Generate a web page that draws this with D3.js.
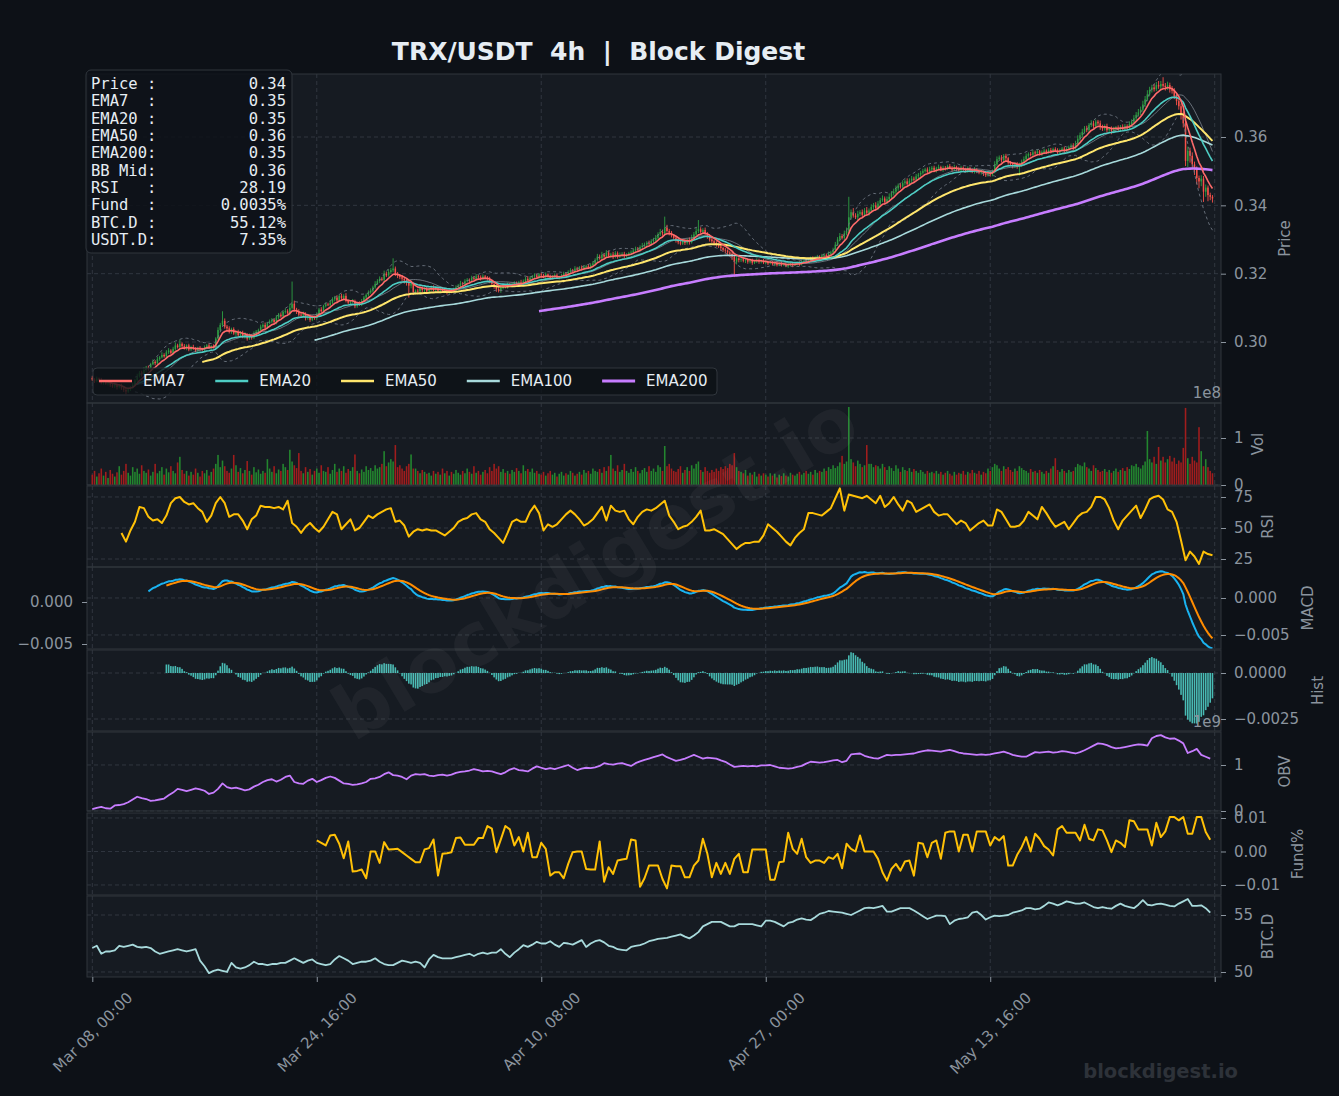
<!DOCTYPE html>
<html>
<head>
<meta charset="utf-8">
<script src="https://cdn.jsdelivr.net/npm/d3@7/dist/d3.min.js"></script>
<style>
  html, body { margin: 0; padding: 0; background: #0d1117; }
  svg { display: block; }
</style>
</head>
<body>
<div id="chart"></div>
<script>
// ---- data ----
// 4h candles from Mar 08 00:00, close in 1e-4 USDT
const firstOpen = 2895;
const closeX1e4 = [
  2890,2885,2893,2888,2880,2884,2878,2882,2875,2870,2876,2868,2872,2865,2860,2855,2862,2866,2875,2888,
  2900,2910,2905,2918,2925,2920,2935,2942,2938,2950,2955,2962,2958,2970,2975,2968,2980,2990,2985,2995,
  2988,2982,2990,2978,2985,2980,2975,2982,2980,2978,2985,2990,2983,2988,2985,3010,3035,3050,3062,3045,
  3040,3030,3038,3025,3030,3020,3028,3015,3022,3010,3020,3012,3025,3030,3035,3045,3050,3042,3055,3060,
  3065,3058,3072,3080,3075,3088,3090,3085,3100,3112,3095,3090,3080,3078,3082,3070,3075,3065,3072,3070,
  3080,3095,3090,3105,3110,3108,3115,3125,3130,3122,3135,3128,3135,3120,3115,3118,3120,3105,3112,3110,
  3120,3130,3138,3145,3150,3160,3170,3178,3185,3182,3200,3195,3205,3210,3215,3200,3195,3190,3185,3180,
  3175,3165,3170,3145,3150,3148,3158,3152,3155,3148,3155,3160,3152,3158,3150,3155,3148,3152,3145,3150,
  3148,3155,3160,3165,3172,3170,3178,3182,3180,3188,3185,3192,3190,3186,3192,3188,3185,3178,3170,3162,
  3155,3150,3158,3165,3162,3168,3165,3170,3172,3168,3175,3170,3178,3185,3180,3188,3192,3195,3190,3198,
  3195,3190,3198,3192,3188,3192,3195,3188,3190,3195,3200,3198,3205,3210,3208,3215,3212,3218,3215,3220,
  3222,3218,3225,3230,3240,3250,3245,3255,3250,3262,3252,3256,3250,3260,3250,3255,3258,3252,3255,3260,
  3262,3268,3272,3270,3278,3282,3285,3290,3288,3295,3298,3305,3315,3322,3318,3335,3325,3320,3312,3305,
  3298,3292,3288,3295,3290,3298,3292,3305,3315,3325,3330,3322,3328,3318,3310,3300,3295,3290,3285,3280,
  3275,3270,3268,3262,3258,3250,3235,3245,3240,3242,3238,3240,3235,3238,3232,3236,3240,3235,3238,3232,
  3235,3230,3233,3228,3232,3225,3230,3226,3228,3222,3226,3230,3225,3228,3232,3228,3235,3238,3235,3240,
  3245,3242,3248,3250,3246,3252,3255,3250,3258,3262,3270,3285,3300,3310,3305,3318,3325,3365,3380,3370,
  3365,3375,3380,3372,3385,3378,3385,3395,3400,3392,3405,3415,3420,3410,3418,3425,3435,3440,3450,3458,
  3455,3465,3470,3462,3472,3478,3475,3485,3490,3495,3500,3505,3498,3505,3510,3502,3508,3512,3505,3510,
  3508,3515,3510,3505,3512,3508,3502,3510,3505,3500,3508,3503,3498,3505,3500,3495,3498,3492,3488,3495,
  3490,3498,3520,3535,3540,3532,3545,3538,3525,3520,3515,3522,3512,3518,3528,3535,3545,3550,3548,3555,
  3552,3558,3550,3556,3560,3555,3562,3558,3565,3560,3555,3562,3566,3560,3565,3570,3575,3568,3580,3595,
  3605,3615,3625,3620,3635,3640,3632,3645,3640,3630,3625,3632,3620,3625,3618,3625,3628,3622,3630,3625,
  3632,3628,3638,3645,3655,3665,3672,3680,3695,3710,3725,3738,3745,3740,3752,3748,3755,3750,3745,3752,
  3740,3735,3720,3705,3690,3665,3640,3530,3560,3545,3520,3505,3480,3470,3478,3440,3452,3430,3425,3420
];
// upper / lower wick beyond the body, 1e-4 USDT
const wickUp = [
  5,4,6,3,7,4,5,3,6,4,5,3,4,6,5,8,4,5,6,4,7,5,6,8,5,
  6,4,7,5,6,4,8,5,6,7,4,6,9,5,12,4,6,3,5,4,7,5,4,6,3,
  5,4,6,3,5,4,8,6,28,7,5,6,4,5,3,6,4,5,7,4,5,3,6,5,4,
  6,5,7,4,6,5,4,7,5,6,4,8,6,12,65,9,5,6,4,7,5,4,6,3,5,
  6,5,7,4,6,5,8,6,5,7,4,6,5,8,4,5,6,4,5,7,6,5,4,6,7,
  5,8,6,7,5,9,6,8,7,30,6,5,4,6,5,7,4,6,5,4,6,3,5,4,6,
  4,5,6,3,5,4,6,5,4,7,5,4,6,5,7,4,6,5,4,6,5,7,4,5,6,
  4,5,6,4,5,3,6,4,5,4,6,5,4,6,5,4,7,5,6,8,5,4,6,5,4,
  5,4,6,3,5,4,6,5,4,5,6,4,5,6,4,7,5,4,6,5,4,6,5,7,5,
  8,6,9,5,7,6,5,8,6,5,7,5,6,5,4,6,5,7,6,5,8,6,5,7,6,
  7,8,6,9,7,32,8,6,5,4,6,5,7,4,6,5,8,9,7,10,27,6,5,7,4,
  5,6,4,5,3,6,4,5,3,4,5,4,6,3,5,4,3,5,4,6,3,5,4,3,5,
  4,3,5,4,3,5,4,6,3,4,5,3,4,5,3,4,6,4,5,3,5,6,4,5,4,
  6,5,4,7,5,6,8,7,9,6,8,10,60,8,12,7,9,6,8,7,10,6,8,7,9,
  8,7,9,6,8,10,7,9,8,6,7,8,6,9,7,8,6,7,5,6,7,5,6,8,5,
  6,5,7,4,6,5,4,6,5,7,4,5,6,4,5,6,4,5,7,4,5,6,4,5,6,
  5,7,9,8,6,7,5,6,4,5,6,4,5,7,6,8,7,5,6,7,5,6,4,5,6,
  4,5,6,4,5,7,4,5,6,4,5,6,7,9,10,8,9,7,8,6,9,7,6,5,8,
  6,5,7,4,6,5,4,6,5,7,6,5,8,7,9,8,10,9,11,10,12,9,8,10,9,
  12,9,20,8,10,7,9,8,10,9,8,10,15,12,9,10,8,9,7,10,8,9,6,7,5
];
const wickDown = [
  4,5,3,6,4,5,3,5,6,4,5,7,4,5,6,8,4,5,3,4,5,4,6,3,5,
  4,5,3,6,4,5,3,4,6,5,4,3,5,4,6,5,4,6,5,4,3,5,4,6,4,
  5,4,3,5,4,6,3,4,5,6,8,5,6,4,7,5,6,4,5,6,4,5,3,4,5,
  4,5,6,4,3,5,4,6,5,4,6,5,4,7,5,6,8,5,6,4,7,5,6,4,5,
  5,4,6,5,4,3,5,4,6,5,4,5,6,4,5,7,4,6,5,4,5,3,4,5,4,
  5,4,3,5,4,6,5,4,5,6,7,8,6,7,9,10,35,8,7,6,8,5,7,6,5,
  6,5,4,6,5,7,4,5,6,4,5,4,6,5,4,6,5,4,5,3,4,5,4,6,5,
  4,5,6,7,6,8,5,6,4,5,6,4,5,3,4,5,6,4,5,3,4,5,4,3,5,
  4,3,5,4,6,5,4,3,5,4,3,5,4,3,5,4,3,5,4,5,3,4,5,4,3,
  5,4,6,5,4,6,5,7,5,6,4,5,6,5,4,6,5,4,5,6,4,5,6,4,5,
  5,4,6,5,7,6,5,8,6,5,7,6,5,4,6,5,7,4,5,4,6,5,7,6,8,
  6,5,7,6,5,8,6,9,7,8,10,45,8,7,6,5,7,6,5,6,4,5,6,5,4,
  4,5,3,4,6,4,3,5,4,3,5,4,6,3,4,5,4,3,5,4,6,4,5,3,4,
  5,4,6,5,4,6,5,4,6,5,7,6,8,7,6,5,8,6,7,5,6,8,6,7,5,
  6,7,5,8,6,7,5,6,8,7,6,5,7,6,5,8,6,5,7,6,5,4,6,5,7,
  5,6,4,5,7,6,5,4,6,5,7,4,5,6,4,5,6,4,5,6,4,5,6,5,4,
  6,5,4,6,5,7,6,8,6,5,7,6,5,25,6,5,4,6,5,4,5,6,4,5,6,
  5,4,6,5,4,6,5,4,6,5,4,5,6,4,5,6,7,5,6,8,6,7,5,6,9,
  7,6,8,6,10,7,6,5,7,6,5,7,6,5,6,7,5,8,6,7,5,6,8,7,6,
  7,8,6,9,7,10,8,9,12,10,14,12,15,18,20,15,16,18,20,14,30,15,18,10,12
];
// volume per candle, millions
const volMillions = [
  22,30,18,25,35,20,28,15,32,24,18,27,40,22,30,45,26,20,38,28,35,24,42,30,26,
  33,20,28,45,25,30,38,22,35,27,40,30,25,48,60,32,24,30,20,28,22,35,26,18,30,
  25,32,20,28,35,45,64,38,52,40,30,26,35,64,42,28,36,25,32,51,30,22,38,27,33,
  24,30,26,55,35,28,40,25,33,30,45,38,32,75,50,42,36,68,30,25,38,28,34,22,30,
  35,26,42,30,28,38,24,32,45,28,35,30,40,26,34,30,38,65,30,25,33,28,40,32,36,
  30,42,35,38,45,72,40,48,55,50,85,38,42,35,30,40,45,65,35,35,30,25,32,28,24,
  26,20,30,24,28,22,35,25,30,20,28,24,32,26,22,30,25,35,28,24,40,26,30,22,28,
  32,25,38,30,45,35,40,28,34,26,30,24,32,28,36,30,25,42,30,34,28,35,26,30,24,
  22,28,20,25,30,22,26,18,24,28,20,25,22,30,26,20,24,28,22,32,26,30,24,35,30,
  28,34,26,38,30,40,64,35,30,42,28,32,45,30,26,34,28,38,30,25,32,36,28,40,30,
  35,28,42,38,30,83,40,45,35,30,28,34,40,26,32,38,30,42,35,45,50,32,28,38,30,
  26,32,28,35,30,38,34,40,36,45,42,68,38,30,28,25,32,20,26,22,28,18,24,20,25,
  22,18,25,20,24,16,22,19,25,20,18,26,22,20,24,28,22,26,30,24,28,22,32,26,30,
  28,35,30,38,34,42,36,40,48,62,45,50,166,55,48,40,52,45,38,42,85,45,45,38,42,
  40,35,45,38,32,40,36,30,42,35,28,38,32,30,36,28,34,30,26,32,28,24,30,26,28,
  25,30,24,28,22,26,30,24,20,28,22,26,24,30,22,28,25,32,26,24,30,22,28,25,35,
  30,38,45,42,35,30,40,34,38,32,28,35,30,40,36,32,30,26,34,28,30,26,32,28,24,
  30,26,35,40,57,32,28,34,30,26,32,28,30,38,45,42,40,48,38,35,30,42,36,32,28,
  30,34,28,32,26,30,35,28,32,36,30,38,34,42,40,45,38,35,42,50,115,55,48,60,45,
  81,52,60,48,55,62,50,58,45,52,48,79,164,57,45,60,52,48,123,72,40,55,38,30,25
];
// RSI(14), every 2nd candle from candle 13
const rsiStart = 13;
const rsiVals = [
  46,39,48,55,67,66,59,56,57,54, 60,70,74,75,71,69,70,66,63,55,
  60,70,75,70,59,61,61,56,49,57, 60,68,67,67,66,67,65,72,54,51,
  46,51,54,50,47,51,57,63,61,49, 53,57,48,50,55,60,58,61,63,65,
  66,55,56,52,43,47,49,48,49,48, 48,46,44,47,50,55,57,58,61,62,
  57,55,49,46,42,38,46,55,57,55, 55,63,68,62,48,53,51,53,57,61,
  64,61,57,52,54,57,62,67,56,68, 64,63,64,57,53,59,63,65,64,66,
  69,72,60,55,49,51,52,55,59,64, 48,48,49,47,45,41,37,33,36,38,
  38,39,39,44,53,50,47,43,39,36, 42,46,49,62,62,61,60,63,66,74,
  82,64,77,76,75,74,76,73,70,76, 67,70,75,69,64,72,70,63,65,67,
  69,63,60,61,61,57,53,56,54,48, 51,54,56,52,52,65,63,57,51,51,
  52,56,63,60,57,67,62,56,51,53, 55,49,54,59,62,63,67,75,75,73,
  66,56,49,56,60,64,68,58,65,73, 75,76,73,65,63,55,40,24,31,27,
  21,31,29,28
];
// OBV, every 2nd candle from candle 0, in 1e7
const obvVals = [
  4,7,9,6,5,12,13,15,19,25, 31,28,26,22,23,25,27,34,40,48,
  46,43,46,49,47,44,37,40,48,60, 52,49,51,48,45,47,53,57,63,67,
  69,64,68,74,77,63,60,59,66,70, 63,67,72,75,72,66,60,59,57,58,
  60,63,70,71,74,80,84,78,77,74, 69,77,80,79,80,77,76,78,79,77,
  79,83,85,86,88,91,89,86,87,86, 83,80,84,90,93,89,88,86,92,97,
  94,91,93,91,94,97,100,94,89,92, 94,93,95,98,104,102,101,103,104,101,
  98,104,108,111,114,117,120,123,117,113, 109,111,114,118,122,118,114,116,115,114,
  110,107,101,96,97,98,97,98,97,99, 99,100,97,94,93,92,93,96,98,103,
  107,106,105,106,108,110,111,106,109,123, 124,125,120,117,115,114,118,122,121,122,
  122,123,124,125,128,130,132,131,130,129, 131,133,130,127,125,124,123,122,123,122,
  123,125,127,129,126,122,120,118,118,123, 128,127,128,129,127,128,130,129,127,125,
  128,132,137,142,147,146,143,139,136,137, 139,141,143,145,144,142,158,163,165,160,
  157,158,153,147,126,130,135,122,118,114
];
// funding rate, every 2nd candle from candle 100, in 0.001 %
const fundStart = 100;
const fundVals = [
  3.3,2.6,1.8,4.8,5,2.3,-2,3,-6,-5.8, -5.4,-8,0,0,-3.4,2.8,0.6,0.7,0.8,-0.2,
  -1.2,-2.2,-3.2,-3.2,0.6,1,3.6,-7.2,-0.7,-0.5, -0.2,4,4.2,2,2,2,4,4,7.6,6.8,
  -0.2,3.6,7.6,6.6,1.8,4.3,0,5.6,-1.7,-1.7, 2.6,0.8,-7.2,-6.2,-6.2,-8,-3.7,-0.2,0,0,
  -5.2,-5.4,-5.4,3,-9,-4.7,-6.7,-2.7,-2.4,-2.2, 3.6,3.3,-10.5,-8,-4.2,-4.2,-4.2,-8.2,-11,-4.2,
  -4.4,-4.4,-7.7,-7.7,-4.2,-2.7,3.8,-0.7,-7.7,-3.4, -6.7,-3.4,-6.7,-2.2,-0.7,-6.2,-6.2,0.6,0.6,0.6,
  0.6,-8.4,-8.4,-3.2,-3,5.6,0.8,-0.7,3.8,-1.7, -3.4,-2.7,-2.7,-3.4,-1.7,-2.2,-0.7,-5,2.3,0.8,
  0,4.8,0,0,0,-2.2,-6.2,-8.7,-5.2,-3.7, -5.7,-3,-2.7,-7.2,2.6,2.3,-1.7,2.6,3.3,-2.2,
  5.6,6,6,0,5,5,0,6,6,6, 1.8,4.3,3.3,4.6,-4.2,-4.2,-1,1.3,4.3,0,
  5.3,3.8,1.6,0.6,-1.2,6.6,7.6,5.6,5.6,5.6, 3.3,8,3.8,3.3,6.6,6.3,3.3,-0.2,3.3,2.6,
  1.3,9.3,9,6.6,6.6,6.6,1.8,8.6,4.3,6, 10.3,10.3,9.3,10.3,5.3,5.3,10.3,10.3,5.8,3.5
];
// BTC dominance %, every 2nd candle from candle 0
const btcDom = [
  52.1,52.3,51.6,51.8,51.8,51.9,52.3,52.2,52.3,52.4, 52.2,52.15,52.2,52.1,51.8,51.6,51.7,51.8,51.9,52.0,
  51.9,51.8,51.9,52.0,51.0,50.5,49.9,50.1,50.2,50.1, 50.0,50.8,50.4,50.3,50.4,50.6,50.9,50.7,50.7,50.6,
  50.7,50.7,50.8,50.8,51.0,51.2,51.0,50.8,51.0,51.1, 50.8,50.7,50.6,50.7,51.1,51.4,51.2,51.0,50.7,50.8,
  50.9,50.9,51.0,51.2,50.9,50.7,50.6,50.6,50.8,51.0, 50.9,50.8,50.9,50.8,50.4,51.1,51.5,51.3,51.2,51.2,
  51.2,51.3,51.4,51.5,51.6,51.4,51.6,51.7,51.6,51.7, 51.7,52.0,51.6,51.3,51.7,52.0,52.35,52.2,52.4,52.65,
  52.5,52.5,52.7,52.4,52.2,52.55,52.5,52.4,52.6,52.8, 52.2,52.5,52.7,52.8,52.6,52.3,52.2,52.0,51.95,51.9,
  52.2,52.3,52.35,52.5,52.7,52.8,52.9,52.95,53.0,53.1, 53.2,53.3,53.1,52.95,53.2,53.5,54.0,54.2,54.4,54.4,
  54.4,54.2,54.0,54.0,54.2,54.2,54.2,54.2,54.1,54.0, 54.5,54.5,54.4,54.2,54.0,54.3,54.4,54.6,54.7,54.6,
  54.55,54.8,55.1,55.2,55.35,55.3,55.25,55.2,55.1,55.0, 55.2,55.4,55.6,55.65,55.6,55.7,55.8,55.3,55.3,55.45,
  55.6,55.6,55.6,55.4,55.15,54.9,54.65,54.8,54.95,54.95, 54.9,54.2,54.5,54.65,54.7,54.8,55.2,55.3,55.0,54.6,
  54.8,54.95,54.9,54.95,55.0,55.2,55.3,55.4,55.6,55.6, 55.5,55.55,55.8,56.1,56.0,55.85,56.0,56.2,56.1,56.0,
  56.0,56.1,55.9,55.7,55.6,55.7,55.6,55.55,55.8,56.0, 55.8,55.7,55.6,55.9,56.3,55.9,55.85,55.95,56.0,55.9,
  55.8,55.75,56.0,56.2,56.4,55.8,55.8,55.85,55.6,55.2
];
const infoLabels = ['Price :', 'EMA7  :', 'EMA20 :', 'EMA50 :', 'EMA200:', 'BB Mid:', 'RSI   :', 'Fund  :', 'BTC.D :', 'USDT.D:'];
const infoValues = ['0.34', '0.35', '0.35', '0.36', '0.35', '0.36', '28.19', '0.0035%', '55.12%', '7.35%'];
const xTickIdx = [0, 100, 200, 300, 400, 500];
const startUTC = Date.UTC(2025, 2, 8, 0, 0);

// ---- derived series ----
const n = closeX1e4.length;
const close = closeX1e4.map(v => v / 1e4);
const open = close.map((c, i) => i === 0 ? firstOpen / 1e4 : close[i - 1]);
const high = close.map((c, i) => Math.max(c, open[i]) + wickUp[i] / 1e4);
const low = close.map((c, i) => Math.min(c, open[i]) - wickDown[i] / 1e4);

function ema(src, span, minCount) { // ewm(adjust=False) with min periods
  const a = 2 / (span + 1);
  let prev = null, count = 0;
  return src.map(v => {
    if (v == null) return null;
    prev = prev == null ? v : a * v + (1 - a) * prev;
    count++;
    return count >= minCount ? prev : null;
  });
}
const ema7 = ema(close, 7, 7), ema20 = ema(close, 20, 20), ema50 = ema(close, 50, 50);
const ema100 = ema(close, 100, 100), ema200 = ema(close, 200, 200);
const e12 = ema(close, 12, 1), e26 = ema(close, 26, 1);
const macd = close.map((c, i) => i >= 25 ? e12[i] - e26[i] : null);
const signal = ema(macd, 9, 9);
const hist = macd.map((m, i) => (m != null && signal[i] != null) ? m - signal[i] : null);
const bb = close.map((c, i) => {
  if (i < 19) return null;
  const w = close.slice(i - 19, i + 1);
  const m = d3.mean(w), s = d3.deviation(w);
  return { mid: m, up: m + 2 * s, lo: m - 2 * s };
});
const pairs = arr => arr.map((v, i) => [i, v]);

// ---- layout ----
const W = 1339, H = 1096;
const X0 = 87, X1 = 1221;
const TXT = '#8b949e';
const x = d3.scaleLinear().domain([-2.36, 502.8]).range([X0, X1]);
const step = x(1) - x(0);

const panels = [
  { key: 'price', top: 74,  bot: 403, lim: [0.28215, 0.37844], ticks: [0.30, 0.32, 0.34, 0.36], fmt: d3.format('.2f'), label: 'Price', labelX: 1285 },
  { key: 'vol',   top: 403, bot: 485, lim: [0, 1.745e8], ticks: [0, 1e8], fmt: v => String(v / 1e8), label: 'Vol', labelX: 1258 },
  { key: 'rsi',   top: 486, bot: 567, lim: [18.55, 83.87], ticks: [25, 50, 75], fmt: d3.format('d'), label: 'RSI', labelX: 1268 },
  { key: 'macd',  top: 567, bot: 649, lim: [-0.006892, 0.004189], ticks: [-0.005, 0], fmt: d3.format('.3f'), label: 'MACD', labelX: 1308 },
  { key: 'hist',  top: 650, bot: 731, lim: [-0.003152, 0.00125], ticks: [-0.0025, 0], fmt: d3.format('.4f'), label: 'Hist', labelX: 1318 },
  { key: 'obv',   top: 732, bot: 811, lim: [0, 1.717e9], ticks: [0, 1e9], fmt: v => String(v / 1e9), label: 'OBV', labelX: 1285 },
  { key: 'fund',  top: 813, bot: 895, lim: [-0.01299, 0.01149], ticks: [-0.01, 0, 0.01], fmt: d3.format('.2f'), label: 'Fund%', labelX: 1298 },
  { key: 'btc',   top: 896, bot: 977, lim: [49.561, 56.667], ticks: [50, 55], fmt: d3.format('d'), label: 'BTC.D', labelX: 1268 }
];
const P = {};
panels.forEach(p => {
  p.y = d3.scaleLinear().domain(p.lim).range([p.bot, p.top]);
  P[p.key] = p;
});

const svg = d3.select('#chart').append('svg')
  .attr('width', W).attr('height', H)
  .style('font-family', '"DejaVu Sans", sans-serif');
svg.append('rect').attr('width', W).attr('height', H).attr('fill', '#0d1117');
const defs = svg.append('defs');

svg.append('text')
  .attr('x', 598.5).attr('y', 60)
  .attr('text-anchor', 'middle')
  .attr('font-size', 25).attr('font-weight', 'bold')
  .attr('fill', '#e6edf3')
  .style('white-space', 'pre')
  .text('TRX/USDT  4h  |  Block Digest');

// panel backgrounds + grid
panels.forEach(p => {
  svg.append('rect').attr('x', X0).attr('y', p.top).attr('width', X1 - X0).attr('height', p.bot - p.top).attr('fill', '#161b22');
  defs.append('clipPath').attr('id', 'clip-' + p.key)
    .append('rect').attr('x', X0).attr('y', p.top).attr('width', X1 - X0).attr('height', p.bot - p.top);
  const grid = svg.append('g').attr('stroke', '#373e47').attr('stroke-width', 0.8).attr('stroke-dasharray', '4,3');
  p.ticks.forEach(t => {
    grid.append('line').attr('x1', X0).attr('x2', X1).attr('y1', p.y(t)).attr('y2', p.y(t));
  });
  xTickIdx.forEach(t => {
    grid.append('line').attr('x1', x(t)).attr('x2', x(t)).attr('y1', p.top).attr('y2', p.bot);
  });
  p.g = svg.append('g').attr('clip-path', 'url(#clip-' + p.key + ')');
});

function drawLine(p, data, color, width, opts) {
  opts = opts || {};
  const gen = d3.line().defined(d => d[1] != null).x(d => x(d[0])).y(d => p.y(d[1]));
  p.g.append('path').datum(data)
    .attr('fill', 'none').attr('stroke', color).attr('stroke-width', width)
    .attr('stroke-linejoin', 'round')
    .attr('stroke-dasharray', opts.dash || null)
    .attr('opacity', opts.opacity || 1)
    .attr('d', gen);
}

// ---- price: candles, bollinger, emas ----
const UP = '#2ea043', DOWN = '#f85149';
const candles = d3.range(n).map(i => ({ i: i, o: open[i], c: close[i], h: high[i], l: low[i] }));
const pc = P.price.g.append('g');
pc.selectAll('line').data(candles).join('line')
  .attr('x1', d => x(d.i)).attr('x2', d => x(d.i))
  .attr('y1', d => P.price.y(d.h)).attr('y2', d => P.price.y(d.l))
  .attr('stroke', d => d.c >= d.o ? UP : DOWN).attr('stroke-width', 0.9);
pc.selectAll('rect').data(candles).join('rect')
  .attr('x', d => x(d.i) - step * 0.33).attr('width', step * 0.66)
  .attr('y', d => P.price.y(Math.max(d.o, d.c)))
  .attr('height', d => Math.max(0.8, Math.abs(P.price.y(d.o) - P.price.y(d.c))))
  .attr('fill', d => d.c >= d.o ? UP : DOWN);

drawLine(P.price, bb.map((b, i) => [i, b ? b.up : null]), '#6e7681', 1, { dash: '3,3', opacity: 0.9 });
drawLine(P.price, bb.map((b, i) => [i, b ? b.lo : null]), '#6e7681', 1, { dash: '3,3', opacity: 0.9 });
drawLine(P.price, bb.map((b, i) => [i, b ? b.mid : null]), '#8b949e', 1, { opacity: 0.7 });
drawLine(P.price, pairs(ema100), '#a8dadc', 1.6);
drawLine(P.price, pairs(ema200), '#c77dff', 2.6);
drawLine(P.price, pairs(ema50), '#ffe66d', 2);
drawLine(P.price, pairs(ema20), '#4ecdc4', 1.6);
drawLine(P.price, pairs(ema7), '#ff6b6b', 1.6);

// ---- volume ----
P.vol.g.selectAll('rect').data(d3.range(n)).join('rect')
  .attr('x', i => x(i) - step * 0.35).attr('width', step * 0.7)
  .attr('y', i => P.vol.y(volMillions[i] * 1e6))
  .attr('height', i => P.vol.y(0) - P.vol.y(volMillions[i] * 1e6))
  .attr('fill', i => close[i] >= open[i] ? '#23862f' : '#a11d1d');

// ---- RSI ----
drawLine(P.rsi, rsiVals.map((v, k) => [rsiStart + 2 * k, v]), '#ffc107', 2);

// ---- MACD ----
drawLine(P.macd, pairs(macd), '#1ab3f0', 2);
drawLine(P.macd, pairs(signal), '#ff8c00', 2);

// ---- histogram ----
P.hist.g.selectAll('rect').data(d3.range(n).filter(i => hist[i] != null)).join('rect')
  .attr('x', i => x(i) - step * 0.35).attr('width', step * 0.7)
  .attr('y', i => P.hist.y(Math.max(0, hist[i])))
  .attr('height', i => Math.abs(P.hist.y(hist[i]) - P.hist.y(0)))
  .attr('fill', '#4ecdc4').attr('opacity', 0.9);

// ---- OBV, funding, BTC.D ----
drawLine(P.obv, obvVals.map((v, k) => [2 * k, v * 1e7]), '#c77dff', 1.8);
drawLine(P.fund, fundVals.map((v, k) => [fundStart + 2 * k, v / 1000]), '#ffc107', 2);
drawLine(P.btc, btcDom.map((v, k) => [2 * k, v]), '#a8dadc', 1.8);

// ---- frames, axes ----
function styleAxis(g) {
  g.attr('font-size', 15).attr('font-family', '"DejaVu Sans", sans-serif');
  g.select('.domain').remove();
  g.selectAll('.tick line').attr('stroke', TXT);
  g.selectAll('.tick text').attr('fill', TXT);
}
panels.forEach(p => {
  svg.append('rect').attr('x', X0).attr('y', p.top).attr('width', X1 - X0).attr('height', p.bot - p.top)
    .attr('fill', 'none').attr('stroke', '#30363d').attr('stroke-width', 1);
  const ax = svg.append('g').attr('transform', 'translate(' + X1 + ',0)')
    .call(d3.axisRight(p.y).tickValues(p.ticks).tickFormat(p.fmt).tickSize(5).tickPadding(8));
  styleAxis(ax);
  svg.append('text')
    .attr('transform', 'translate(' + p.labelX + ',' + ((p.top + p.bot) / 2) + ') rotate(-90)')
    .attr('text-anchor', 'middle').attr('dominant-baseline', 'central')
    .attr('font-size', 15).attr('fill', TXT).text(p.label);
});

// second MACD scale on the left
const yMacdLeft = d3.scaleLinear().domain([-0.005595, 0.004167]).range([P.macd.bot, P.macd.top]);
styleAxis(svg.append('g').attr('transform', 'translate(' + X0 + ',0)')
  .call(d3.axisLeft(yMacdLeft).tickValues([-0.005, 0]).tickFormat(d3.format('.3f')).tickSize(5).tickPadding(9)));

// offset labels
svg.append('text').attr('x', X1).attr('y', P.vol.top - 5).attr('text-anchor', 'end')
  .attr('font-size', 15).attr('fill', TXT).text('1e8');
svg.append('text').attr('x', X1).attr('y', P.obv.top - 5).attr('text-anchor', 'end')
  .attr('font-size', 15).attr('fill', TXT).text('1e9');

// time axis
const fmtTime = d3.utcFormat('%b %d, %H:%M');
const xg = svg.append('g').attr('transform', 'translate(0,' + P.btc.bot + ')')
  .call(d3.axisBottom(x).tickValues(xTickIdx).tickSize(5)
    .tickFormat(i => i < n ? fmtTime(new Date(startUTC + i * 4 * 3600e3)) : ''));
styleAxis(xg);
xg.selectAll('.tick text').each(function () {
  const t = d3.select(this);
  t.attr('y', 0).attr('dy', null).attr('text-anchor', 'middle').attr('dominant-baseline', 'central');
  const w = this.getComputedTextLength();
  const half = (w + 15) * Math.SQRT1_2 / 2;
  t.attr('transform', 'translate(0,' + (13 + half) + ') rotate(-45)');
});

// ---- info box ----
const info = svg.append('g');
info.append('rect').attr('x', 86).attr('y', 70).attr('width', 206).attr('height', 183).attr('rx', 5)
  .attr('fill', '#0d1117').attr('fill-opacity', 0.85).attr('stroke', '#30363d');
infoLabels.forEach((lab, k) => {
  const yy = 84 + k * 17.33;
  info.append('text').attr('x', 91).attr('y', yy).attr('dominant-baseline', 'central')
    .attr('font-family', '"DejaVu Sans Mono", monospace').attr('font-size', 15.5)
    .attr('fill', '#e6edf3').style('white-space', 'pre').text(lab);
  info.append('text').attr('x', 286).attr('y', yy).attr('dominant-baseline', 'central')
    .attr('text-anchor', 'end')
    .attr('font-family', '"DejaVu Sans Mono", monospace').attr('font-size', 15.5)
    .attr('fill', '#e6edf3').text(infoValues[k]);
});

// ---- legend ----
const legItems = [['EMA7', '#ff6b6b'], ['EMA20', '#4ecdc4'], ['EMA50', '#ffe66d'], ['EMA100', '#a8dadc'], ['EMA200', '#c77dff']];
const leg = svg.append('g');
leg.append('rect').attr('x', 93).attr('y', 368).attr('width', 624).attr('height', 27).attr('rx', 4)
  .attr('fill', '#0d1117').attr('fill-opacity', 0.8).attr('stroke', '#30363d');
let lx = 99;
legItems.forEach(([name, color]) => {
  leg.append('line').attr('x1', lx).attr('x2', lx + 33).attr('y1', 381).attr('y2', 381)
    .attr('stroke', color).attr('stroke-width', name === 'EMA200' ? 3 : 2.4);
  const t = leg.append('text').attr('x', lx + 44).attr('y', 381).attr('dominant-baseline', 'central')
    .attr('font-size', 15).attr('fill', '#e6edf3').text(name);
  lx = lx + 44 + t.node().getComputedTextLength() + 30;
});

// ---- watermarks ----
svg.append('text')
  .attr('transform', 'translate(595,567) rotate(-31)')
  .attr('text-anchor', 'middle').attr('dominant-baseline', 'central')
  .attr('font-size', 75).attr('font-weight', 'bold')
  .attr('fill', '#ffffff').attr('fill-opacity', 0.045)
  .text('blockdigest.io');
svg.append('text')
  .attr('x', 1238).attr('y', 1078).attr('text-anchor', 'end')
  .attr('font-size', 19.5).attr('font-weight', 'bold')
  .attr('fill', '#2d3239')
  .text('blockdigest.io');
</script>
</body>
</html>
